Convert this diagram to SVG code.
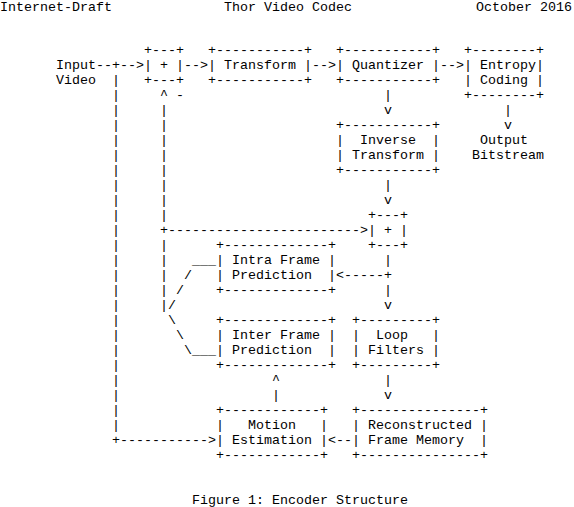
<svg xmlns="http://www.w3.org/2000/svg" width="574" height="507" viewBox="0 0 574 507" xml:space="preserve">
<style>
text{font-family:"Liberation Mono","Courier New",monospace;font-size:13.333px;fill:#000;white-space:pre}
</style>
<rect width="574" height="507" fill="#fff"/>
<g id="header">
<text x="0" y="11">Internet-Draft</text>
<text x="224" y="11">Thor Video Codec</text>
<text x="476" y="11">October 2016</text>
</g>
<g id="connectors">
<text x="96" y="69">--+--&gt;</text>
<text x="184" y="69">--&gt;</text>
<text x="312" y="69">--&gt;</text>
<text x="440" y="69">--&gt;</text>
<text><tspan x="112" y="84">|</tspan><tspan x="112" y="99">|</tspan><tspan x="112" y="114">|</tspan><tspan x="112" y="129">|</tspan><tspan x="112" y="144">|</tspan><tspan x="112" y="159">|</tspan><tspan x="112" y="174">|</tspan><tspan x="112" y="189">|</tspan><tspan x="112" y="204">|</tspan><tspan x="112" y="219">|</tspan><tspan x="112" y="234">|</tspan><tspan x="112" y="249">|</tspan><tspan x="112" y="264">|</tspan><tspan x="112" y="279">|</tspan><tspan x="112" y="294">|</tspan><tspan x="112" y="309">|</tspan><tspan x="112" y="324">|</tspan><tspan x="112" y="339">|</tspan><tspan x="112" y="354">|</tspan><tspan x="112" y="369">|</tspan><tspan x="112" y="384">|</tspan><tspan x="112" y="399">|</tspan><tspan x="112" y="414">|</tspan><tspan x="112" y="429">|</tspan></text>
<text x="112" y="444">+-----------&gt;</text>
<text x="160" y="99">^ -</text>
<text><tspan x="160" y="114">|</tspan><tspan x="160" y="129">|</tspan><tspan x="160" y="144">|</tspan><tspan x="160" y="159">|</tspan><tspan x="160" y="174">|</tspan><tspan x="160" y="189">|</tspan><tspan x="160" y="204">|</tspan><tspan x="160" y="219">|</tspan><tspan x="160" y="249">|</tspan><tspan x="160" y="264">|</tspan><tspan x="160" y="279">|</tspan><tspan x="160" y="294">|</tspan><tspan x="160" y="309">|/</tspan></text>
<text x="160" y="234">+------------------------&gt;</text>
<text x="192" y="264">___</text>
<text x="184" y="279">/</text>
<text x="176" y="294">/</text>
<text x="168" y="324">\</text>
<text x="176" y="339">\</text>
<text x="184" y="354">\___</text>
<text><tspan x="384" y="99">|</tspan><tspan x="384" y="114">v</tspan><tspan x="384" y="189">|</tspan><tspan x="384" y="204">v</tspan><tspan x="384" y="264">|</tspan><tspan x="384" y="294">|</tspan><tspan x="384" y="309">v</tspan><tspan x="384" y="384">|</tspan><tspan x="384" y="399">v</tspan></text>
<text x="336" y="279">&lt;-----+</text>
<text><tspan x="504" y="114">|</tspan><tspan x="504" y="129">v</tspan></text>
<text><tspan x="272" y="384">^</tspan><tspan x="272" y="399">|</tspan></text>
<text x="328" y="444">&lt;--</text>
</g>
<g id="input">
<text x="56" y="69">Input</text>
<text x="56" y="84">Video</text>
</g>
<g id="adder1">
<text x="144" y="54">+---+</text>
<text x="144" y="69">| + |</text>
<text x="144" y="84">+---+</text>
</g>
<g id="transform">
<text x="208" y="54">+-----------+</text>
<text x="208" y="69">| Transform |</text>
<text x="208" y="84">+-----------+</text>
</g>
<g id="quantizer">
<text x="336" y="54">+-----------+</text>
<text x="336" y="69">| Quantizer |</text>
<text x="336" y="84">+-----------+</text>
</g>
<g id="entropy">
<text x="464" y="54">+--------+</text>
<text x="464" y="69">| Entropy|</text>
<text x="464" y="84">| Coding |</text>
<text x="464" y="99">+--------+</text>
</g>
<g id="output">
<text x="480" y="144">Output</text>
<text x="472" y="159">Bitstream</text>
</g>
<g id="inverse">
<text x="336" y="129">+-----------+</text>
<text x="336" y="144">|  Inverse  |</text>
<text x="336" y="159">| Transform |</text>
<text x="336" y="174">+-----------+</text>
</g>
<g id="adder2">
<text x="368" y="219">+---+</text>
<text x="368" y="234">| + |</text>
<text x="368" y="249">+---+</text>
</g>
<g id="intra">
<text x="216" y="249">+-------------+</text>
<text x="216" y="264">| Intra Frame |</text>
<text x="216" y="279">| Prediction  |</text>
<text x="216" y="294">+-------------+</text>
</g>
<g id="inter">
<text x="216" y="324">+-------------+</text>
<text x="216" y="339">| Inter Frame |</text>
<text x="216" y="354">| Prediction  |</text>
<text x="216" y="369">+-------------+</text>
</g>
<g id="loop">
<text x="352" y="324">+---------+</text>
<text x="352" y="339">|  Loop   |</text>
<text x="352" y="354">| Filters |</text>
<text x="352" y="369">+---------+</text>
</g>
<g id="motion">
<text x="216" y="414">+------------+</text>
<text x="216" y="429">|   Motion   |</text>
<text x="216" y="444">| Estimation |</text>
<text x="216" y="459">+------------+</text>
</g>
<g id="recon">
<text x="352" y="414">+---------------+</text>
<text x="352" y="429">| Reconstructed |</text>
<text x="352" y="444">| Frame Memory  |</text>
<text x="352" y="459">+---------------+</text>
</g>
<g id="caption">
<text x="192" y="504">Figure 1: Encoder Structure</text>
</g>
</svg>
